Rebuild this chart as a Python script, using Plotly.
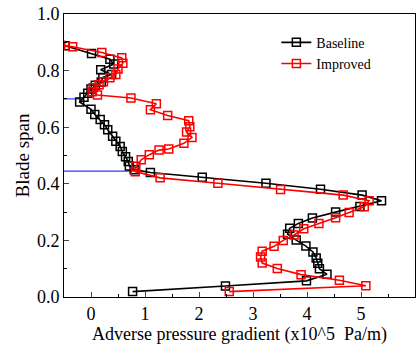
import plotly.graph_objects as go

# Baseline (black) : x = adverse pressure gradient, y = blade span
base_x = [-0.48, 0.01, 0.35, 0.42, 0.18, 0.38, 0.22, 0.19, 0.08, 0.0, -0.06, -0.13, -0.21,
          0.0, 0.07, 0.17, 0.25, 0.31, 0.40, 0.46, 0.54, 0.58, 0.64, 0.69, 0.71, 0.80, 1.10,
          2.06, 3.24, 4.25, 5.02, 5.38, 4.98, 4.53, 4.10, 3.84, 3.68, 3.64, 3.80, 3.98, 4.11,
          4.17, 4.20, 4.23, 4.37, 3.99, 2.49, 0.77]
base_y = [0.888, 0.860, 0.840, 0.823, 0.803, 0.786, 0.776, 0.760, 0.748, 0.735, 0.720, 0.706, 0.689,
          0.663, 0.645, 0.627, 0.609, 0.591, 0.568, 0.550, 0.532, 0.514, 0.496, 0.479, 0.463, 0.450, 0.440,
          0.423, 0.402, 0.381, 0.360, 0.340, 0.320, 0.300, 0.279, 0.260, 0.243, 0.222, 0.201, 0.180, 0.159,
          0.138, 0.119, 0.100, 0.080, 0.057, 0.039, 0.019]

# Improved (red)
imp_x = [-0.56, -0.34, 0.20, 0.57, 0.59, 0.50, 0.46, 0.35, 0.23, 0.15, 0.04, 0.02, 0.12, 0.74,
         1.21, 1.10, 1.42, 1.81, 1.83, 1.77, 1.87, 1.72, 1.44, 1.26, 1.08, 0.93, 0.83, 0.82,
         1.28, 2.35, 3.51, 4.67, 5.15, 5.06, 4.78, 4.53, 4.22, 3.94, 3.76, 3.56, 3.39, 3.17,
         3.14, 3.17, 3.45, 3.89, 4.60, 5.09, 2.56]
imp_y = [0.890, 0.884, 0.864, 0.845, 0.826, 0.806, 0.786, 0.775, 0.761, 0.750, 0.739, 0.725, 0.714, 0.703,
         0.683, 0.662, 0.641, 0.623, 0.602, 0.583, 0.564, 0.543, 0.523, 0.519, 0.503, 0.485, 0.462, 0.443,
         0.421, 0.402, 0.380, 0.360, 0.340, 0.319, 0.299, 0.280, 0.260, 0.241, 0.219, 0.200, 0.179, 0.162,
         0.141, 0.120, 0.101, 0.079, 0.059, 0.040, 0.019]

# Blue reference lines (span levels)
ref_y = [0.70, 0.445]
ref_x_end = [-0.2, 0.85]

x_ticks = [0, 1, 2, 3, 4, 5, 6]
y_ticks = [0.0, 0.2, 0.4, 0.6, 0.8, 1.0]

SERIF = "Liberation Serif"

fig = go.Figure()
fig.add_trace(go.Scatter(
    x=base_x, y=base_y, mode="lines+markers", name="Baseline",
    line=dict(color="black", width=1.6),
    marker=dict(symbol="square-open", size=8, color="black", line=dict(width=1.5)),
))
fig.add_trace(go.Scatter(
    x=imp_x, y=imp_y, mode="lines+markers", name="Improved",
    line=dict(color="red", width=1.6),
    marker=dict(symbol="square-open", size=8, color="red", line=dict(width=1.5)),
))

for yv, xe in zip(ref_y, ref_x_end):
    fig.add_shape(type="line", xref="x", yref="y", x0=-0.5, x1=xe, y0=yv, y1=yv,
                  line=dict(color="#3333ff", width=1.2), layer="below")

fig.update_layout(
    width=419, height=347,
    margin=dict(l=64, r=4, t=14, b=50),
    paper_bgcolor="white", plot_bgcolor="white",
    font=dict(family=SERIF, color="black", size=17),
    showlegend=True,
    legend=dict(x=0.605, y=0.955, xanchor="left", yanchor="top",
                bgcolor="rgba(0,0,0,0)", font=dict(size=14, family=SERIF, color="black"),
                tracegroupgap=0, itemwidth=30),
    xaxis=dict(
        range=[-0.5, 6], tickvals=x_ticks, ticks="inside", ticklen=5, tickwidth=1,
        showline=True, linecolor="black", linewidth=1, mirror=True,
        showgrid=False, zeroline=False,
        minor=dict(dtick=0.5, ticks="inside", ticklen=3, tickcolor="black"),
        title=dict(text="Adverse pressure gradient (x10^5  Pa/m)",
                   font=dict(size=18, family=SERIF, color="black"), standoff=2),
        tickfont=dict(size=18, family=SERIF, color="black"),
    ),
    yaxis=dict(
        range=[0, 1.0], tickvals=y_ticks, tickformat=".1f", ticks="inside", ticklen=5, tickwidth=1,
        showline=True, linecolor="black", linewidth=1, mirror=True,
        showgrid=False, zeroline=False,
        minor=dict(dtick=0.1, ticks="inside", ticklen=3, tickcolor="black"),
        title=dict(text="Blade span", font=dict(size=19, family=SERIF, color="black"), standoff=2),
        tickfont=dict(size=18, family=SERIF, color="black"),
    ),
)

fig.write_html("out.html")
